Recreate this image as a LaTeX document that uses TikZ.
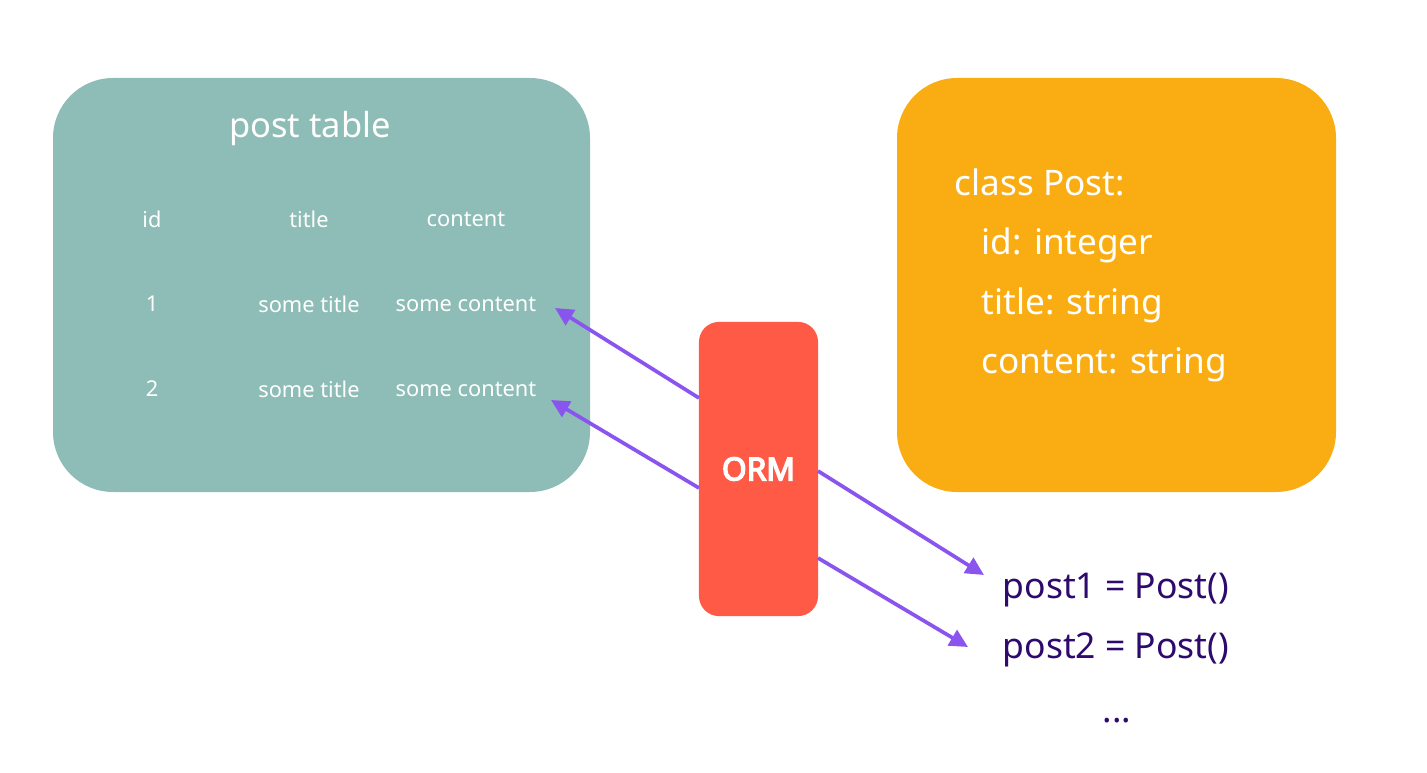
\documentclass[tikz,border=0pt]{standalone}
\usepackage{fontspec}
\setmainfont{Noto Sans}
\newfontfamily\ormfont{Noto Sans}[AutoFakeBold=4.5]
\usetikzlibrary{arrows.meta}
\definecolor{tealbox}{HTML}{8DBDB6}
\definecolor{orangebox}{HTML}{F9AD12}
\definecolor{ormred}{HTML}{FF5A45}
\definecolor{arrowpurple}{HTML}{8A55EE}
\definecolor{darkpurple}{HTML}{2D0A6B}
\tikzset{
  panel/.style={inner sep=0pt, outer sep=0pt},
  celltext/.style={text=white, font=\fontsize{6.2}{7}\selectfont, inner sep=0pt},
  classtext/.style={text=white, font=\fontsize{10}{12}\selectfont, anchor=west, inner sep=0pt},
  objtext/.style={text=darkpurple, font=\fontsize{10.1}{12}\selectfont, anchor=west, inner sep=0pt},
  link/.style={draw=arrowpurple, line width=1.05pt, -{Triangle[length=5.2pt,width=5pt]}},
}
\begin{document}
\begin{tikzpicture}[x=0.01cm,y=-0.01cm]
\useasboundingbox (0,0) rectangle (1427,773);
% panels
\fill[tealbox, rounded corners=0.6cm] (53,78) rectangle (590,492);
\node[panel] (tbl) at (321.5,285) {};
\fill[orangebox, rounded corners=0.6cm] (897,78) rectangle (1336,492);
\node[panel] (cls) at (1116.5,285) {};
\node[fill=ormred, rounded corners=0.2cm, minimum width=1.19cm, minimum height=2.94cm, inner sep=0pt,
  text=white, font=\ormfont\bfseries\fontsize{9}{10}\selectfont] (orm) at (758.5,469) {ORM};
% table texts
\node[text=white, font=\fontsize{9.8}{12}\selectfont, inner sep=0pt] (ttitle) at (310,129) {post table};
\node[celltext] (hid) at (152,219) {id};
\node[celltext] (htitle) at (309,219) {title};
\node[celltext] (hcontent) at (466,219) {content};
\node[celltext] (r1id) at (152,304) {1};
\node[celltext] (r1title) at (309,304) {some title};
\node[celltext] (r1content) at (466,304) {some content};
\node[celltext] (r2id) at (152,389) {2};
\node[celltext] (r2title) at (309,389) {some title};
\node[celltext] (r2content) at (466,389) {some content};
% class texts
\node[classtext] (c0) at (954,182) {class Post:};
\node[classtext] (c1) at (981,245) {id: integer};
\node[classtext] (c2) at (981,305) {title: string};
\node[classtext] (c3) at (981,365) {content: string};
% objects
\node[objtext] (o1) at (1002,590) {post1 = Post()};
\node[objtext] (o2) at (1002,650) {post2 = Post()};
\node[text=darkpurple, font=\fontsize{10.1}{12}\selectfont, inner sep=0pt] (o3) at (1117,721) {...};
% arrow endpoints
\coordinate (a1s) at (699,398);
\coordinate (a1e) at (555,308);
\coordinate (a2s) at (699,488);
\coordinate (a2e) at (551,400);
\coordinate (a3s) at (818,471);
\coordinate (a3e) at (984,575);
\coordinate (a4s) at (818,558);
\coordinate (a4e) at (968,647);
\draw[link] (a1s) -- (a1e);
\draw[link] (a2s) -- (a2e);
\draw[link] (a3s) -- (a3e);
\draw[link] (a4s) -- (a4e);
\end{tikzpicture}
\end{document}
